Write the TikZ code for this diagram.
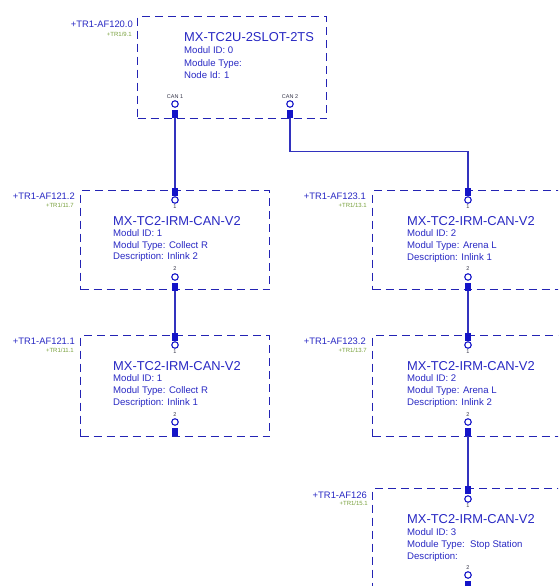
\documentclass[tikz,border=0pt]{standalone}
\usepackage{fontspec}
\setmainfont{Liberation Sans}
\definecolor{txtc}{RGB}{40,40,195}
\definecolor{boxc}{RGB}{35,35,180}
\definecolor{wirec}{RGB}{50,50,190}
\definecolor{pinc}{RGB}{20,20,200}
\definecolor{grn}{RGB}{120,160,60}
\definecolor{numc}{RGB}{50,50,70}
\tikzset{
 box/.style={draw=boxc, dash pattern=on 8pt off 5pt, line width=1.4pt, minimum width=189pt, anchor=north west, inner sep=0},
 title/.style={text=txtc, font=\fontsize{12.9}{14}\selectfont, anchor=base west, yshift=-4.6pt, inner sep=0},
 body/.style={text=txtc, font=\fontsize{9.6}{11}\selectfont, anchor=base west, yshift=-3.4pt, inner sep=0},
 tag/.style={text=txtc, font=\fontsize{9.4}{11}\selectfont, anchor=base east, yshift=-3.4pt, inner sep=0},
 loc/.style={text=grn, font=\fontsize{6}{7}\selectfont, anchor=base east, yshift=-2.2pt, inner sep=0},
 pin/.style={rectangle, fill=pinc, draw=none, minimum width=6pt, minimum height=8.5pt, inner sep=0},
 ring/.style={circle, draw=pinc, line width=1.1pt, minimum size=6.5pt, inner sep=0, fill=white},
 pnum/.style={font=\fontsize{5.5}{6}\selectfont, text=numc, inner sep=0},
 wire/.style={draw=wirec, line width=1.3pt},
}
\begin{document}
\begin{tikzpicture}[x=1pt,y=1pt]
\useasboundingbox (0,0) rectangle (558,-586);
\clip (0,0) rectangle (558,-586);
% ---------- boxes ----------
\node[box, minimum height=102pt] (b0) at (137,-16) {};
\node[box, minimum height=99pt] (b1) at (80,-190) {};
\node[box, minimum height=101pt] (b2) at (80,-335) {};
\node[box, minimum height=99pt] (b3) at (372,-190) {};
\node[box, minimum height=101pt] (b4) at (372,-335) {};
\node[box, minimum height=100pt] (b5) at (372,-488) {};
% ---------- texts B0 ----------
\node[tag] (t0) at (133,-24) {+TR1-AF120.0};
\node[loc] (l0) at (132,-34) {+TR1/9.1};
\node[title] (h0) at (184,-37) {MX-TC2U-2SLOT-2TS};
\node[body] (a0) at (184,-50) {Modul ID: 0};
\node[body] (m0) at (184,-63) {Module Type:};
\node[body] (n0) at (184,-75) {Node Id: 1};
% ---------- texts B1 ----------
\node[tag] (t1) at (75,-196) {+TR1-AF121.2};
\node[loc] (l1) at (74,-205) {+TR1/11.7};
\node[title] (h1) at (113,-221) {MX-TC2-IRM-CAN-V2};
\node[body] (a1) at (113,-233) {Modul ID: 1};
\node[body] (m1) at (113,-245) {Modul Type: Collect R};
\node[body] (d1) at (113,-256) {Description: Inlink 2};
% ---------- texts B2 ----------
\node[tag] (t2) at (75,-341) {+TR1-AF121.1};
\node[loc] (l2) at (74,-350) {+TR1/11.1};
\node[title] (h2) at (113,-366) {MX-TC2-IRM-CAN-V2};
\node[body] (a2) at (113,-378) {Modul ID: 1};
\node[body] (m2) at (113,-390) {Modul Type: Collect R};
\node[body] (d2) at (113,-402) {Description: Inlink 1};
% ---------- texts B3 ----------
\node[tag] (t3) at (366,-196) {+TR1-AF123.1};
\node[loc] (l3) at (367,-205) {+TR1/13.1};
\node[title] (h3) at (407,-221) {MX-TC2-IRM-CAN-V2};
\node[body] (a3) at (407,-233) {Modul ID: 2};
\node[body] (m3) at (407,-245) {Modul Type: Arena L};
\node[body] (d3) at (407,-257) {Description: Inlink 1};
% ---------- texts B4 ----------
\node[tag] (t4) at (366,-341) {+TR1-AF123.2};
\node[loc] (l4) at (367,-350) {+TR1/13.7};
\node[title] (h4) at (407,-366) {MX-TC2-IRM-CAN-V2};
\node[body] (a4) at (407,-378) {Modul ID: 2};
\node[body] (m4) at (407,-390) {Modul Type: Arena L};
\node[body] (d4) at (407,-402) {Description: Inlink 2};
% ---------- texts B5 ----------
\node[tag] (t5) at (367,-495) {+TR1-AF126};
\node[loc] (l5) at (368,-503) {+TR1/15.1};
\node[title] (h5) at (407,-519) {MX-TC2-IRM-CAN-V2};
\node[body] (a5) at (407,-532) {Modul ID: 3};
\node[body] (m5) at (407,-544) {Module Type:\ \ Stop Station};
\node[body] (d5) at (407,-556) {Description:};
% ---------- ports ----------
% B0 out ports
\node[pin] (p0a) at (175,-114) {};
\node[ring] (r0a) at (175,-104) {};
\node[pnum] (c0a) at (175,-97) {CAN 1};
\node[pin] (p0b) at (290,-114) {};
\node[ring] (r0b) at (290,-104) {};
\node[pnum] (c0b) at (290,-97) {CAN 2};
% B1
\node[pin] (p1i) at (175,-192) {};
\node[ring] (r1i) at (175,-200) {};
\node[pnum] (n1i) at (175,-207) {1};
\node[pnum] (n1o) at (175,-269) {2};
\node[ring] (r1o) at (175,-277) {};
\node[pin] (p1o) at (175,-287) {};
% B2
\node[pin] (p2i) at (175,-337) {};
\node[ring] (r2i) at (175,-345) {};
\node[pnum] (n2i) at (175,-352) {1};
\node[pnum] (n2o) at (175,-415) {2};
\node[ring] (r2o) at (175,-422) {};
\node[pin] (p2o) at (175,-432) {};
% B3
\node[pin] (p3i) at (468,-192) {};
\node[ring] (r3i) at (468,-200) {};
\node[pnum] (n3i) at (468,-207) {1};
\node[pnum] (n3o) at (468,-269) {2};
\node[ring] (r3o) at (468,-277) {};
\node[pin] (p3o) at (468,-287) {};
% B4
\node[pin] (p4i) at (468,-337) {};
\node[ring] (r4i) at (468,-345) {};
\node[pnum] (n4i) at (468,-352) {1};
\node[pnum] (n4o) at (468,-415) {2};
\node[ring] (r4o) at (468,-422) {};
\node[pin] (p4o) at (468,-432) {};
% B5
\node[pin] (p5i) at (468,-490) {};
\node[ring] (r5i) at (468,-499) {};
\node[pnum] (n5i) at (468,-506) {1};
\node[pnum] (n5o) at (468,-568) {2};
\node[ring] (r5o) at (468,-575) {};
\node[pin] (p5o) at (468,-585) {};
% ---------- wires ----------
\draw[wire] (p0a.south) -- (p1i.north);
\draw[wire] (p0b.south) -- ++(0,-33) -| (p3i.north);
\draw[wire] (p1o.south) -- (p2i.north);
\draw[wire] (p3o.south) -- (p4i.north);
\draw[wire] (p4o.south) -- (p5i.north);
\end{tikzpicture}
\end{document}
